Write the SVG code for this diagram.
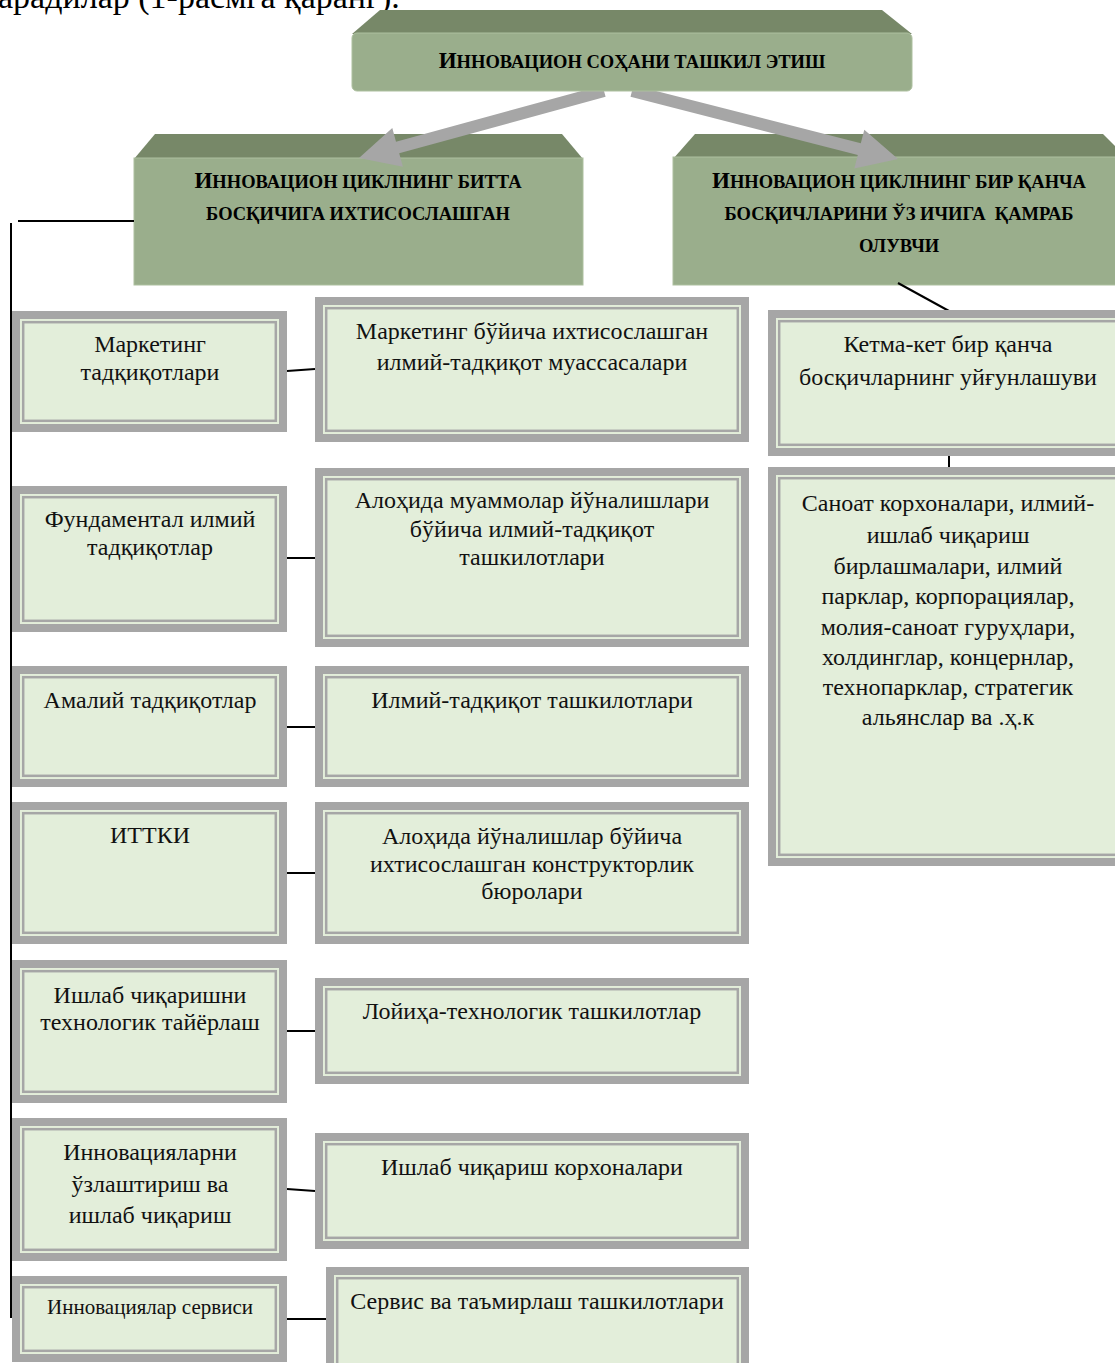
<svg xmlns="http://www.w3.org/2000/svg" width="1115" height="1363" viewBox="0 0 1115 1363">
<style>
.bev{fill:#778868}
.fr{fill:#9aae8c;stroke:#adc09f;stroke-width:1}
.hd{font-family:"Liberation Serif","DejaVu Serif",serif;font-weight:bold;font-size:18.5px;text-anchor:middle;fill:#000}
.big{font-size:23px}
.ob{fill:#a6a6a6}
.in{fill:#e3eeda}
.ln{fill:#e3eeda;stroke:#a6a6a6;stroke-width:2.5}
.tx{font-family:"Liberation Serif","DejaVu Serif",serif;font-size:24px;text-anchor:middle;fill:#111}
.sm{font-size:21px}
.cn{stroke:#000;stroke-width:2;fill:none}
.ar{fill:#a6a6a6}
.body{font-family:"Liberation Serif","DejaVu Serif",serif;font-size:34px;fill:#000}
</style>
<text class="body" x="-2" y="8">арадилар (1-расмга қаранг).</text>

<g id="n-single">
<polygon class="bev" points="155,134 562,134 583,159 134,159"/>
<rect class="fr" x="134" y="158" width="449" height="127"/>
<text class="hd" x="358" y="188"><tspan class="big">И</tspan>ННОВАЦИОН ЦИКЛНИНГ БИТТА</text>
<text class="hd" x="358" y="220">БОСҚИЧИГА ИХТИСОСЛАШГАН</text>
</g>
<g id="n-multi">
<polygon class="bev" points="695,134 1103,134 1128,159 673,159"/>
<rect class="fr" x="673" y="157" width="460" height="128"/>
<text class="hd" x="899" y="188"><tspan class="big">И</tspan>ННОВАЦИОН ЦИКЛНИНГ БИР ҚАНЧА</text>
<text class="hd" x="899" y="220" xml:space="preserve">БОСҚИЧЛАРИНИ ЎЗ ИЧИГА  ҚАМРАБ</text>
<text class="hd" x="899" y="252">ОЛУВЧИ</text>
</g>

<g id="connectors">
<polygon class="ar" points="602.4,85.2 396,141.7 392.3,128.1 359,158 402.9,166.7 399.2,153.2 605.6,96.8"/>
<polygon class="ar" points="633.5,85.2 860.8,143.3 864.3,129.7 898,159 854.3,168.5 857.8,154.9 630.5,96.8"/>
<line class="cn" x1="18" y1="221" x2="134" y2="221"/>
<line class="cn" x1="11" y1="223" x2="11" y2="1318"/>
<line class="cn" x1="287" y1="371" x2="315" y2="369"/>
<line class="cn" x1="287" y1="558" x2="315" y2="558"/>
<line class="cn" x1="287" y1="727" x2="315" y2="727"/>
<line class="cn" x1="287" y1="873" x2="315" y2="873"/>
<line class="cn" x1="287" y1="1031" x2="315" y2="1031"/>
<line class="cn" x1="287" y1="1189" x2="315" y2="1191"/>
<line class="cn" x1="287" y1="1319" x2="326" y2="1319"/>
<line class="cn" x1="898" y1="283" x2="949" y2="311"/>
<line class="cn" x1="949" y1="456" x2="949" y2="467"/>
</g>

<g id="n-top">
<polygon class="bev" points="380,10 882,10 912,34 352,34"/>
<rect class="fr" x="352" y="33" width="560" height="58" rx="5"/>
<text class="hd" x="632" y="68"><tspan class="big">И</tspan>ННОВАЦИОН СОҲАНИ ТАШКИЛ ЭТИШ</text>
</g>

<g id="n-l1">
<rect class="ob" x="12" y="311" width="275" height="121"/><rect class="in" x="20" y="319" width="259" height="105"/><rect class="ln" x="23.2" y="322.2" width="252.6" height="98.6"/>
<text class="tx" x="150" y="352">Маркетинг</text><text class="tx" x="150" y="380">тадқиқотлари</text>
</g>
<g id="n-l2">
<rect class="ob" x="12" y="486" width="275" height="146"/><rect class="in" x="20" y="494" width="259" height="130"/><rect class="ln" x="23.2" y="497.2" width="252.6" height="123.6"/>
<text class="tx" x="150" y="527">Фундаментал илмий</text><text class="tx" x="150" y="555">тадқиқотлар</text>
</g>
<g id="n-l3">
<rect class="ob" x="12" y="666" width="275" height="121"/><rect class="in" x="20" y="674" width="259" height="105"/><rect class="ln" x="23.2" y="677.2" width="252.6" height="98.6"/>
<text class="tx" x="150" y="708">Амалий тадқиқотлар</text>
</g>
<g id="n-l4">
<rect class="ob" x="12" y="802" width="275" height="142"/><rect class="in" x="20" y="810" width="259" height="126"/><rect class="ln" x="23.2" y="813.2" width="252.6" height="119.6"/>
<text class="tx" x="150" y="843">ИТТКИ</text>
</g>
<g id="n-l5">
<rect class="ob" x="12" y="960" width="275" height="143"/><rect class="in" x="20" y="968" width="259" height="127"/><rect class="ln" x="23.2" y="971.2" width="252.6" height="120.6"/>
<text class="tx" x="150" y="1003">Ишлаб чиқаришни</text><text class="tx" x="150" y="1030">технологик тайёрлаш</text>
</g>
<g id="n-l6">
<rect class="ob" x="12" y="1118" width="275" height="143"/><rect class="in" x="20" y="1126" width="259" height="127"/><rect class="ln" x="23.2" y="1129.2" width="252.6" height="120.6"/>
<text class="tx" x="150" y="1160">Инновацияларни</text><text class="tx" x="150" y="1192">ўзлаштириш ва</text><text class="tx" x="150" y="1223">ишлаб чиқариш</text>
</g>
<g id="n-l7">
<rect class="ob" x="12" y="1276" width="275" height="86"/><rect class="in" x="20" y="1284" width="259" height="70"/><rect class="ln" x="23.2" y="1287.2" width="252.6" height="63.6"/>
<text class="tx sm" x="150" y="1314">Инновациялар сервиси</text>
</g>

<g id="n-r1">
<rect class="ob" x="315" y="297" width="434" height="145"/><rect class="in" x="323" y="305" width="418" height="129"/><rect class="ln" x="326.2" y="308.2" width="411.6" height="122.6"/>
<text class="tx" x="532" y="339">Маркетинг бўйича ихтисослашган</text><text class="tx" x="532" y="370">илмий-тадқиқот муассасалари</text>
</g>
<g id="n-r2">
<rect class="ob" x="315" y="468" width="434" height="179"/><rect class="in" x="323" y="476" width="418" height="163"/><rect class="ln" x="326.2" y="479.2" width="411.6" height="156.6"/>
<text class="tx" x="532" y="508">Алоҳида муаммолар йўналишлари</text><text class="tx" x="532" y="537">бўйича илмий-тадқиқот</text><text class="tx" x="532" y="565">ташкилотлари</text>
</g>
<g id="n-r3">
<rect class="ob" x="315" y="666" width="434" height="121"/><rect class="in" x="323" y="674" width="418" height="105"/><rect class="ln" x="326.2" y="677.2" width="411.6" height="98.6"/>
<text class="tx" x="532" y="708">Илмий-тадқиқот ташкилотлари</text>
</g>
<g id="n-r4">
<rect class="ob" x="315" y="802" width="434" height="142"/><rect class="in" x="323" y="810" width="418" height="126"/><rect class="ln" x="326.2" y="813.2" width="411.6" height="119.6"/>
<text class="tx" x="532" y="844">Алоҳида йўналишлар бўйича</text><text class="tx" x="532" y="872">ихтисослашган конструкторлик</text><text class="tx" x="532" y="899">бюролари</text>
</g>
<g id="n-r5">
<rect class="ob" x="315" y="978" width="434" height="106"/><rect class="in" x="323" y="986" width="418" height="90"/><rect class="ln" x="326.2" y="989.2" width="411.6" height="83.6"/>
<text class="tx" x="532" y="1019">Лойиҳа-технологик ташкилотлар</text>
</g>
<g id="n-r6">
<rect class="ob" x="315" y="1133" width="434" height="116"/><rect class="in" x="323" y="1141" width="418" height="100"/><rect class="ln" x="326.2" y="1144.2" width="411.6" height="93.6"/>
<text class="tx" x="532" y="1175">Ишлаб чиқариш корхоналари</text>
</g>
<g id="n-r7">
<rect class="ob" x="326" y="1267" width="423" height="110"/><rect class="in" x="334" y="1275" width="407" height="94"/><rect class="ln" x="337.2" y="1278.2" width="400.6" height="87.6"/>
<text class="tx" x="537" y="1309">Сервис ва таъмирлаш ташкилотлари</text>
</g>

<g id="n-k1">
<rect class="ob" x="768" y="310" width="362" height="146"/><rect class="in" x="776" y="318" width="346" height="130"/><rect class="ln" x="779.2" y="321.2" width="339.6" height="123.6"/>
<text class="tx" x="948" y="352">Кетма-кет бир қанча</text><text class="tx" x="948" y="385">босқичларнинг уйғунлашуви</text>
</g>
<g id="n-k2">
<rect class="ob" x="768" y="467" width="362" height="399"/><rect class="in" x="776" y="475" width="346" height="383"/><rect class="ln" x="779.2" y="478.2" width="339.6" height="376.6"/>
<text class="tx" x="948" y="511">Саноат корхоналари, илмий-</text>
<text class="tx" x="948" y="543">ишлаб чиқариш</text>
<text class="tx" x="948" y="574">бирлашмалари, илмий</text>
<text class="tx" x="948" y="604">парклар, корпорациялар,</text>
<text class="tx" x="948" y="635">молия-саноат гуруҳлари,</text>
<text class="tx" x="948" y="665">холдинглар, концернлар,</text>
<text class="tx" x="948" y="695">технопарклар, стратегик</text>
<text class="tx" x="948" y="725">альянслар ва .ҳ.к</text>
</g>
</svg>
